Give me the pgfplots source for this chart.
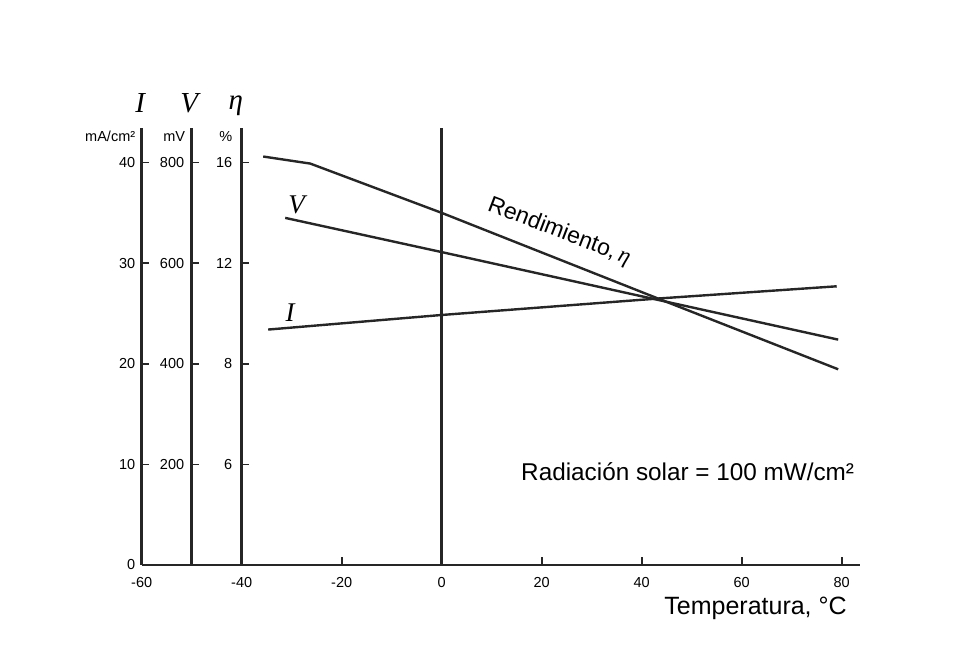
\documentclass[border=0pt]{standalone}
\usepackage{fontspec}
\setmainfont{Liberation Sans}
\newfontfamily\tim{Liberation Serif}
\usepackage{pgfplots}
\pgfplotsset{compat=1.18}
\newcommand{\tk}{\fontsize{14.5}{16}\selectfont}
\begin{document}
\begin{tikzpicture}
\begin{axis}[
    x=5pt, y=10.06pt,
    xmin=-60, xmax=83.6, ymin=0, ymax=43.4,
    axis x line=bottom, axis y line=left,
    axis line style={line width=2.5pt, -, black!85},
    clip=false,
    xtick={-60,-40,-20,0,20,40,60,80},
    xticklabels={-60,-40,-20,0,20,40,60,80},
    ytick={0,10,20,30,40},
    yticklabels={0,10,20,30,40},
    major tick length=0pt,
    xticklabel style={font=\tk, yshift=-9pt},
    yticklabel style={font=\tk, xshift=-3pt},
]
% invisible frame for page size
\path (axis cs:-88.34,-10.54) rectangle (axis cs:102.66,56.16);

% extra vertical axes
\draw[line width=2.5pt, black!85] (axis cs:-50,0) -- (axis cs:-50,43.4);
\draw[line width=2.5pt, black!85] (axis cs:-40,0) -- (axis cs:-40,43.4);
\draw[line width=2.5pt, black!85] (axis cs:0,0) -- (axis cs:0,43.4);

% ticks pointing right of each vertical axis
\draw[line width=1.6pt, black!85]
    (axis cs:-60,10) -- (axis cs:-58.6,10)
    (axis cs:-60,20) -- (axis cs:-58.6,20)
    (axis cs:-60,30) -- (axis cs:-58.6,30)
    (axis cs:-60,40) -- (axis cs:-58.6,40)
    (axis cs:-50,10) -- (axis cs:-48.6,10)
    (axis cs:-50,20) -- (axis cs:-48.6,20)
    (axis cs:-50,30) -- (axis cs:-48.6,30)
    (axis cs:-50,40) -- (axis cs:-48.6,40)
    (axis cs:-40,10) -- (axis cs:-38.6,10)
    (axis cs:-40,20) -- (axis cs:-38.6,20)
    (axis cs:-40,30) -- (axis cs:-38.6,30)
    (axis cs:-40,40) -- (axis cs:-38.6,40);
% x ticks pointing up
\draw[line width=1.6pt, black!85]
    (axis cs:-20,0) -- (axis cs:-20,0.8)
    (axis cs:20,0) -- (axis cs:20,0.8)
    (axis cs:40,0) -- (axis cs:40,0.8)
    (axis cs:60,0) -- (axis cs:60,0.8)
    (axis cs:80,0) -- (axis cs:80,0.8);

% V axis labels (mV)
\node[anchor=east, font=\tk, xshift=-4pt] at (axis cs:-50,10) {200};
\node[anchor=east, font=\tk, xshift=-4pt] at (axis cs:-50,20) {400};
\node[anchor=east, font=\tk, xshift=-4pt] at (axis cs:-50,30) {600};
\node[anchor=east, font=\tk, xshift=-4pt] at (axis cs:-50,40) {800};

% eta axis labels (%)
\node[anchor=east, font=\tk, xshift=-6pt] at (axis cs:-40,10) {6};
\node[anchor=east, font=\tk, xshift=-6pt] at (axis cs:-40,20) {8};
\node[anchor=east, font=\tk, xshift=-6pt] at (axis cs:-40,30) {12};
\node[anchor=east, font=\tk, xshift=-6pt] at (axis cs:-40,40) {16};

% units and axis names
\node[anchor=east, font=\tk, xshift=-3pt] at (axis cs:-60,42.6) {mA/cm²};
\node[anchor=east, font=\tk, xshift=-3pt] at (axis cs:-50,42.6) {mV};
\node[anchor=east, font=\tk, xshift=-6pt] at (axis cs:-40,42.6) {\%};
\node[font=\tim\itshape\fontsize{29}{32}\selectfont] at (axis cs:-60.3,45.9) {I};
\node[font=\tim\itshape\fontsize{29}{32}\selectfont] at (axis cs:-50.5,45.9) {V};
\node[font=\tim\itshape\fontsize{29}{32}\selectfont] at (axis cs:-41.2,45.6) {η};

% curves
\addplot[line width=2.4pt, black!85] coordinates {
    (-35.7,40.6) (-26.3,39.9) (0,35.0) (43.7,26.4) (79.3,19.45)
};
\addplot[line width=2.4pt, black!85] coordinates {
    (-31.3,34.5) (0,31.1) (43.7,26.3) (79.3,22.4)
};
\addplot[line width=2.4pt, black!85] coordinates {
    (-34.7,23.4) (0,24.85) (43.7,26.5) (79,27.7)
};

% curve labels
\node[font=\tim\itshape\fontsize{27}{30}\selectfont] at (axis cs:-29,35.8) {V};
\node[font=\tim\itshape\fontsize{27}{30}\selectfont] at (axis cs:-30.3,25.1) {I};
\node[font=\fontsize{23}{27}\selectfont, rotate=-21] at (axis cs:23.5,33.1) {Rendimiento,\,{\tim\itshape η}};

% notes
\node[anchor=west, font=\fontsize{24.3}{28}\selectfont] at (axis cs:15.2,9.3) {Radiación solar = 100 mW/cm²};
\node[anchor=east, font=\fontsize{25}{29}\selectfont] at (axis cs:81.7,-4.3) {Temperatura, °C};
\end{axis}
\end{tikzpicture}
\end{document}
